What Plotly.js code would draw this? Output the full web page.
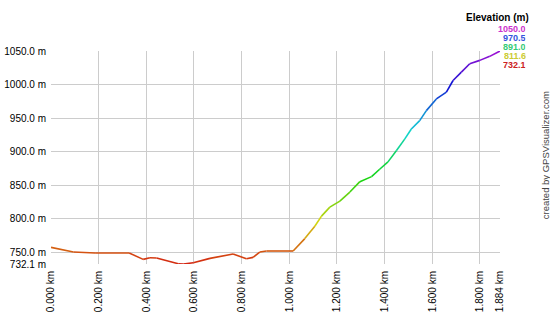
<!DOCTYPE html>
<html>
<head>
<meta charset="utf-8">
<script src="https://cdn.plot.ly/plotly-3.0.1.min.js"></script>
<style>html,body{margin:0;padding:0;background:#fff;}#chart{width:550px;height:314px;}</style>
</head>
<body>
<div id="chart"></div>
<script>
// distance (km) and elevation (m)
const distanceKm = [0.000, 0.094, 0.185, 0.328, 0.387, 0.415, 0.443, 0.534, 0.555, 0.597, 0.667, 0.764, 0.820, 0.848, 0.876, 0.904, 1.016,
  1.065, 1.107, 1.135, 1.170, 1.212, 1.254, 1.296, 1.345, 1.379, 1.414, 1.449, 1.484, 1.512, 1.547, 1.575, 1.617, 1.659, 1.687, 1.722, 1.757, 1.799, 1.841, 1.884];
const elevationM = [757.0, 750.0, 748.5, 748.5, 739.0, 741.5, 741.0, 732.5, 732.1, 734.0, 740.5, 747.0, 740.0, 742.0, 750.0, 751.5, 751.5,
  770.0, 788.5, 803.5, 817.0, 826.0, 839.5, 855.0, 862.5, 873.5, 884.5, 901.0, 918.5, 933.5, 946.0, 961.0, 978.5, 988.5, 1006.0, 1018.5, 1031.0, 1036.0, 1042.0, 1050.0];

const yTickVals = [732.1, 750, 800, 850, 900, 950, 1000, 1050];
const yTickText = ["732.1 m", "750.0 m", "800.0 m", "850.0 m", "900.0 m", "950.0 m", "1000.0 m", "1050.0 m"];
const xTickVals = [0, 0.2, 0.4, 0.6, 0.8, 1.0, 1.2, 1.4, 1.6, 1.8, 1.884];
const xTickText = ["0.000 km", "0.200 km", "0.400 km", "0.600 km", "0.800 km", "1.000 km", "1.200 km", "1.400 km", "1.600 km", "1.800 km", "1.884 km"];

const legendValues = ["1050.0", "970.5", "891.0", "811.6", "732.1"];
const legendColors = ["#cc33cc", "#3355dd", "#33cc77", "#cccc33", "#cc2222"];

const yMin = 732.1, yMax = 1050;
function colorFor(e) {
  const t = Math.max(0, Math.min(1, (e - yMin) / (yMax - yMin)));
  const h = 5 + 280 * t;
  return "hsl(" + h.toFixed(0) + ",85%,45%)";
}

const traces = [];
for (let i = 0; i < distanceKm.length - 1; i++) {
  const mid = (elevationM[i] + elevationM[i + 1]) / 2;
  traces.push({
    x: [distanceKm[i], distanceKm[i + 1]],
    y: [elevationM[i], elevationM[i + 1]],
    type: "scatter", mode: "lines",
    line: {color: colorFor(mid), width: 1.6},
    hoverinfo: "skip", showlegend: false
  });
}

const FONT = "Liberation Sans, Arial, sans-serif";
const annotations = [{
  text: "<b>Elevation (m)</b>", xref: "paper", yref: "paper", x: 1.068, y: 1.155,
  xanchor: "right", yanchor: "middle", showarrow: false, height: 11,
  font: {family: FONT, size: 10, color: "#000"}
}];
legendValues.forEach((v, i) => {
  annotations.push({
    text: "<b>" + v + "</b>", xref: "paper", yref: "paper", x: 1.062, y: 1.107 - i * 0.0425,
    xanchor: "right", yanchor: "middle", showarrow: false, height: 9,
    font: {family: FONT, size: 9, color: legendColors[i]}
  });
});
annotations.push({
  text: "created by GPSVisualizer.com", xref: "paper", yref: "paper", x: 1.1, y: 0.51,
  xanchor: "center", yanchor: "middle", textangle: -90, showarrow: false,
  font: {family: FONT, size: 9.5, color: "#444"}
});

const layout = {
  width: 550, height: 314,
  margin: {l: 51, r: 50, t: 51, b: 50, pad: 0},
  paper_bgcolor: "#fff", plot_bgcolor: "#fff",
  showlegend: false,
  xaxis: {
    range: [0, 1.884], tickmode: "array", tickvals: xTickVals, ticktext: xTickText,
    tickangle: -90, showgrid: true, gridcolor: "#cccccc", gridwidth: 1,
    zeroline: false, showline: false, ticks: "", ticklabelstandoff: 4,
    tickfont: {family: FONT, size: 10, color: "#000"}
  },
  yaxis: {
    range: [yMin, yMax], tickmode: "array", tickvals: yTickVals, ticktext: yTickText,
    showgrid: true, gridcolor: "#cccccc", gridwidth: 1,
    zeroline: false, showline: false, ticks: "", ticklabelstandoff: 4,
    tickfont: {family: FONT, size: 10, color: "#000"}
  },
  annotations: annotations
};

Plotly.newPlot("chart", traces, layout, {displayModeBar: false, staticPlot: true});
</script>
</body>
</html>
